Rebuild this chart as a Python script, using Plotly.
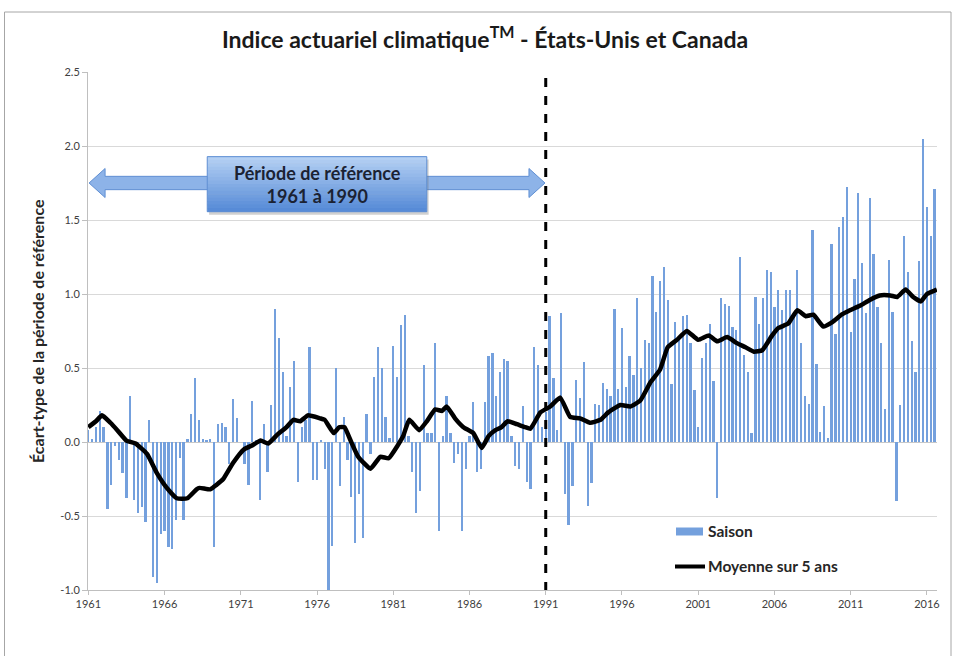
import plotly.graph_objects as go

# ---------------- data ----------------
years = list(range(1961, 2017))
quarters_per_year = 4

season_values = [
    0.08, 0.02, 0.10, 0.21,     # 1961
    0.10, -0.45, -0.29, -0.03,  # 1962
    -0.12, -0.21, -0.38, 0.31,  # 1963
    -0.39, -0.48, -0.44, -0.54, # 1964
    0.15, -0.91, -0.95, -0.62,  # 1965
    -0.60, -0.71, -0.72, -0.53, # 1966
    -0.11, -0.53, 0.02, 0.19,   # 1967
    0.43, 0.15, 0.02, 0.01,     # 1968
    0.02, -0.71, 0.12, 0.13,    # 1969
    0.10, -0.15, 0.29, 0.16,    # 1970
    0.00, -0.15, -0.29, 0.28,   # 1971
    0.01, -0.39, 0.12, -0.20,   # 1972
    0.25, 0.90, 0.70, 0.47,     # 1973
    0.04, 0.37, 0.55, -0.27,    # 1974
    0.10, 0.15, 0.64, -0.26,    # 1975
    -0.26, 0.01, -0.18, -1.01,  # 1976
    -0.70, 0.50, -0.30, 0.17,   # 1977
    -0.12, -0.37, -0.68, -0.35, # 1978
    -0.65, 0.19, -0.08, 0.44,   # 1979
    0.64, 0.50, 0.17, 0.03,     # 1980
    0.65, 0.44, 0.79, 0.86,     # 1981
    0.04, -0.20, -0.48, -0.33,  # 1982
    0.52, 0.06, 0.06, 0.67,     # 1983
    -0.60, 0.04, 0.31, 0.06,    # 1984
    -0.14, -0.08, -0.60, -0.18, # 1985
    0.04, 0.27, -0.20, -0.18,   # 1986
    0.27, 0.58, 0.60, 0.31,     # 1987
    0.47, 0.56, 0.55, 0.04,     # 1988
    -0.16, -0.18, 0.24, -0.27,  # 1989
    -0.32, 0.64, 0.52, 0.10,    # 1990
    0.20, 0.85, 0.43, 0.08,     # 1991
    0.87, -0.35, -0.56, -0.30,  # 1992
    0.42, 0.30, 0.54, -0.43,    # 1993
    -0.28, 0.26, 0.25, 0.40,    # 1994
    0.36, 0.31, 0.90, 0.36,     # 1995
    0.77, 0.37, 0.58, 0.45,     # 1996
    0.97, 0.50, 0.69, 0.67,     # 1997
    1.12, 0.88, 1.09, 1.18,     # 1998
    0.96, 0.39, 0.81, 0.71,     # 1999
    0.85, 0.86, 0.67, 0.35,     # 2000
    0.10, 0.57, 0.67, 0.80,     # 2001
    0.41, -0.38, 0.97, 0.93,    # 2002
    0.92, 0.78, 0.76, 1.25,     # 2003
    0.59, 0.47, 0.06, 0.98,     # 2004
    0.80, 0.97, 1.16, 1.15,     # 2005
    0.91, 1.03, 0.89, 1.03,     # 2006
    1.03, 0.86, 1.16, 0.67,     # 2007
    0.31, 0.26, 1.43, 0.53,     # 2008
    0.07, 0.24, 0.03, 1.34,     # 2009
    0.73, 1.45, 1.52, 1.72,     # 2010
    0.74, 1.10, 1.68, 1.21,     # 2011
    0.87, 1.65, 1.27, 0.91,     # 2012
    0.67, 0.22, 1.23, 0.88,     # 2013
    -0.40, 0.25, 1.39, 1.15,    # 2014
    0.68, 0.47, 1.22, 2.05,     # 2015
    1.59, 1.39, 1.71,           # 2016
]

ma_years = [
    1961.0, 1961.5, 1961.9, 1962.45, 1962.9, 1963.5, 1964.1, 1964.85, 1965.5,
    1966.15, 1966.8, 1967.5, 1968.1, 1968.3, 1969.0, 1969.4, 1969.85, 1970.5,
    1971.2, 1971.8, 1972.3, 1972.8, 1973.4, 1974.0, 1974.45, 1974.9, 1975.4,
    1976.2, 1976.5, 1977.1, 1977.45, 1977.8, 1978.2, 1978.7, 1979.5, 1980.15,
    1980.7, 1981.25, 1981.65, 1982.05, 1982.7, 1983.2, 1983.75, 1984.2, 1984.5,
    1985.05, 1985.6, 1986.25, 1986.8, 1987.25, 1987.7, 1988.1, 1988.5, 1989.1,
    1989.65, 1990.0, 1990.65, 1991.3, 1991.95, 1992.6, 1993.25, 1993.9, 1994.6,
    1995.1, 1995.9, 1996.55, 1997.2, 1997.85, 1998.5, 1999.0, 1999.6, 2000.25,
    2001.0, 2001.7, 2002.25, 2002.9, 2003.5, 2004.1, 2004.65, 2005.2, 2005.85,
    2006.25, 2006.9, 2007.5, 2008.05, 2008.55, 2009.2, 2009.8, 2010.4, 2010.95,
    2011.6, 2012.25, 2012.9, 2013.6, 2014.05, 2014.6, 2015.1, 2015.6, 2016.0,
    2016.65,
]
ma_values = [
    0.10, 0.14, 0.18, 0.13, 0.08, 0.01, -0.01, -0.08, -0.21,
    -0.31, -0.38, -0.38, -0.32, -0.31, -0.32, -0.29, -0.25, -0.14,
    -0.05, -0.02, 0.01, -0.01, 0.05, 0.10, 0.15, 0.14, 0.18,
    0.16, 0.15, 0.06, 0.10, 0.10, 0.01, -0.10, -0.18, -0.10,
    -0.11, -0.03, 0.04, 0.15, 0.08, 0.14, 0.22, 0.21, 0.24,
    0.16, 0.10, 0.06, -0.04, 0.04, 0.08, 0.10, 0.14, 0.12,
    0.10, 0.09, 0.20, 0.24, 0.30, 0.17, 0.16, 0.13, 0.15,
    0.20, 0.25, 0.24, 0.28, 0.40, 0.49, 0.64, 0.69, 0.75,
    0.69, 0.72, 0.68, 0.71, 0.67, 0.64, 0.61, 0.62, 0.72,
    0.77, 0.80, 0.89, 0.85, 0.86, 0.78, 0.81, 0.86, 0.89,
    0.92, 0.96, 0.99, 0.99, 0.98, 1.03, 0.98, 0.95, 1.00,
    1.03,
]

x_tick_years = [1961, 1966, 1971, 1976, 1981, 1986, 1991, 1996, 2001, 2006, 2011, 2016]
y_tick_values = [-1.0, -0.5, 0.0, 0.5, 1.0, 1.5, 2.0, 2.5]
ref_period = [1961, 1991]

season_name = "Saison"
ma_name = "Moyenne sur 5 ans"
title_text = "Indice actuariel climatique<sup>TM</sup> - États-Unis et Canada"
y_title = "Écart-type de la période de référence"
ref_label = "Période de référence<br>1961 à 1990"

# x position of each seasonal bar
season_x = [years[i // quarters_per_year] + (i % quarters_per_year) / quarters_per_year
            for i in range(len(season_values))]

FONT = "Lato"
BAR_COLOR = "#74A0DD"

fig = go.Figure()
fig.add_trace(go.Bar(
    x=season_x, y=season_values, name=season_name,
    marker=dict(color=BAR_COLOR, line=dict(width=0)),
    width=0.15, showlegend=False,
))
fig.add_trace(go.Scatter(
    x=ma_years, y=ma_values, name=ma_name, mode="lines",
    line=dict(color="black", width=4.5, shape="spline", smoothing=0.4),
    showlegend=False,
))

shapes = []
annotations = []

# dashed line at end of reference period
shapes.append(dict(type="line", xref="x", yref="y",
                   x0=ref_period[1], x1=ref_period[1], y0=2.46, y1=-1.0,
                   line=dict(color="black", width=3, dash="dash")))

# double-headed arrow across the reference period
ax0 = ref_period[0] + 0.05
ax1 = ref_period[1] - 0.05
ayc = 1.75
body = 0.045
head = 0.098
hl = 1.05
arrow_path = (f"M {ax0},{ayc} L {ax0+hl},{ayc+head} L {ax0+hl},{ayc+body} "
              f"L {ax1-hl},{ayc+body} L {ax1-hl},{ayc+head} L {ax1},{ayc} "
              f"L {ax1-hl},{ayc-head} L {ax1-hl},{ayc-body} L {ax0+hl},{ayc-body} "
              f"L {ax0+hl},{ayc-head} Z")
shapes.append(dict(type="path", xref="x", yref="y", path=arrow_path,
                   fillcolor="#8DB3E8", line=dict(color="#5F8FD3", width=1)))

# gradient box
bx0, bx1 = 1968.8, 1983.2
by_top, by_bot = 1.928, 1.556
# shadow
shapes.append(dict(type="rect", xref="x", yref="y", x0=bx0 + 0.12, x1=bx1 + 0.12,
                   y0=by_bot - 0.02, y1=by_top - 0.02,
                   fillcolor="rgba(120,120,120,0.35)", line=dict(width=0)))
n_strips = 16
c_top = (183, 210, 244)
c_bot = (84, 137, 214)
for k in range(n_strips):
    t = (k + 0.5) / n_strips
    c = tuple(int(round(c_top[j] + (c_bot[j] - c_top[j]) * t)) for j in range(3))
    y1 = by_top - (by_top - by_bot) * k / n_strips
    y0 = by_top - (by_top - by_bot) * (k + 1) / n_strips
    shapes.append(dict(type="rect", xref="x", yref="y", x0=bx0, x1=bx1,
                       y0=y0 - 0.002, y1=y1 + 0.002,
                       fillcolor=f"rgb{c}", line=dict(width=0)))
shapes.append(dict(type="rect", xref="x", yref="y", x0=bx0, x1=bx1,
                   y0=by_bot, y1=by_top, fillcolor="rgba(0,0,0,0)",
                   line=dict(color="#5F8FD3", width=1)))
annotations.append(dict(xref="x", yref="y", x=(bx0 + bx1) / 2, y=(by_top + by_bot) / 2,
                        text=f"<b>{ref_label}</b>", showarrow=False,
                        font=dict(family=FONT, size=18, color="#1B2233"),
                        align="center"))

# outer chart border (paper coordinates)
plot_l, plot_r, plot_t, plot_b = 88, 937, 72, 590
W, H = 955, 656
pw, ph = plot_r - plot_l, plot_b - plot_t


def px_x(px):
    return (px - plot_l) / pw


def px_y(py):
    return (plot_b - py) / ph


shapes.append(dict(type="rect", xref="paper", yref="paper",
                   x0=px_x(4.5), x1=px_x(951), y0=px_y(700), y1=px_y(12),
                   line=dict(color="#A6A6A6", width=1), fillcolor="rgba(0,0,0,0)",
                   layer="below"))

# manual legend
shapes.append(dict(type="rect", xref="paper", yref="paper",
                   x0=px_x(676), x1=px_x(703), y0=px_y(535.5), y1=px_y(527.5),
                   fillcolor=BAR_COLOR, line=dict(width=0)))
shapes.append(dict(type="line", xref="paper", yref="paper",
                   x0=px_x(675), x1=px_x(705), y0=px_y(566.5), y1=px_y(566.5),
                   line=dict(color="black", width=4)))
annotations.append(dict(xref="paper", yref="paper", x=px_x(706), y=px_y(531),
                        xanchor="left", yanchor="middle", showarrow=False,
                        text=f"<b>{season_name}</b>",
                        font=dict(family=FONT, size=15.5, color="#262626")))
annotations.append(dict(xref="paper", yref="paper", x=px_x(706), y=px_y(566),
                        xanchor="left", yanchor="middle", showarrow=False,
                        text=f"<b>{ma_name}</b>",
                        font=dict(family=FONT, size=15.5, color="#262626")))

# y axis title
annotations.append(dict(xref="paper", yref="paper", x=px_x(37), y=0.5,
                        xanchor="center", yanchor="middle", showarrow=False,
                        textangle=-90, text=f"<b>{y_title}</b>",
                        font=dict(family=FONT, size=16, color="#262626")))

fig.update_layout(
    width=W, height=H,
    margin=dict(l=plot_l, r=W - plot_r, t=plot_t, b=H - plot_b),
    paper_bgcolor="white", plot_bgcolor="white",
    title=dict(text=f"<b>{title_text}</b>", x=px_x(485), xref="paper", xanchor="center",
               y=1 - 40 / H, yanchor="middle",
               font=dict(family=FONT, size=23, color="#1a1a1a")),
    bargap=0,
    shapes=shapes,
    annotations=annotations,
    showlegend=False,
)
fig.update_xaxes(
    range=[1960.98, 2016.66],
    tickmode="array", tickvals=x_tick_years, ticktext=[str(y) for y in x_tick_years],
    showgrid=False, zeroline=False,
    showline=True, linecolor="#BFBFBF", linewidth=1,
    ticks="outside", ticklen=4, tickcolor="#BFBFBF",
    tickfont=dict(family=FONT, size=11, color="#404040"),
)
fig.update_yaxes(
    range=[-1.0, 2.5],
    tickmode="array", tickvals=y_tick_values,
    ticktext=[f"{v:.1f}" for v in y_tick_values],
    showgrid=True, gridcolor="#D9D9D9", gridwidth=1,
    zeroline=True, zerolinecolor="#C8C8C8", zerolinewidth=1,
    showline=True, linecolor="#BFBFBF", linewidth=1,
    ticks="outside", ticklen=5, tickcolor="#BFBFBF",
    tickfont=dict(family=FONT, size=11, color="#404040"),
)

fig.write_html("out.html", config=dict(displayModeBar=False),
               post_script="document.body.style.margin='0px';")
